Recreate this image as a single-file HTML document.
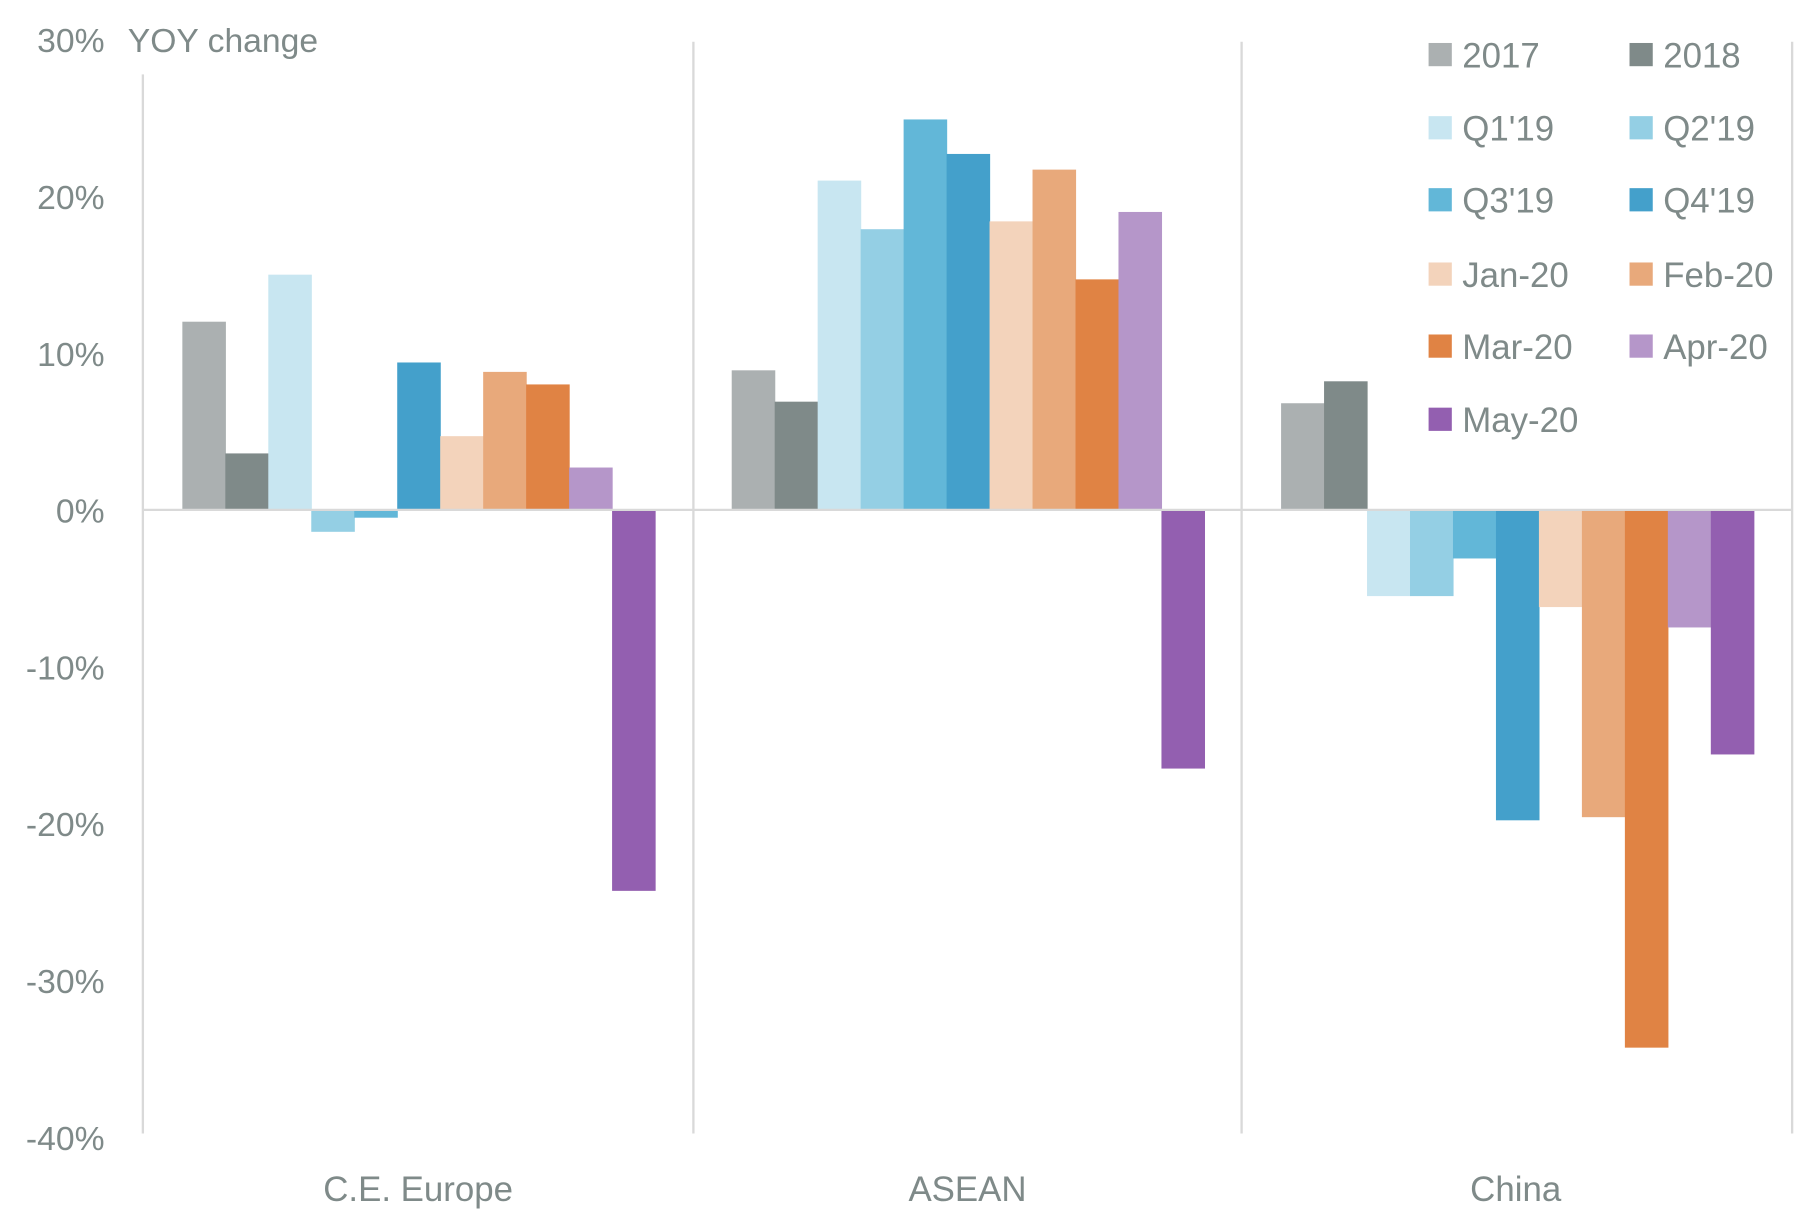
<!DOCTYPE html>
<html><head><style>html,body{margin:0;padding:0;background:#fff}svg{display:block}</style></head><body>
<svg width="1820" height="1216" viewBox="0 0 1567 1047" preserveAspectRatio="none" xmlns="http://www.w3.org/2000/svg" font-family="Liberation Sans, sans-serif" fill="#7f8a89">
<g stroke="#d9d9d9" stroke-width="2">
<line x1="123" y1="64" x2="123" y2="976"/><line x1="597" y1="36" x2="597" y2="976"/><line x1="1069" y1="36" x2="1069" y2="976"/><line x1="1543" y1="36" x2="1543" y2="976"/>
</g>
<g font-size="29" text-anchor="end">
<text x="90" y="45">30%</text><text x="90" y="180">20%</text><text x="90" y="315">10%</text><text x="90" y="450">0%</text>
<text x="90" y="585">-10%</text><text x="90" y="720">-20%</text><text x="90" y="855">-30%</text><text x="90" y="990">-40%</text>
</g>
<text x="110" y="45" font-size="29">YOY change</text>
<g font-size="30" text-anchor="middle"><text x="360" y="1034">C.E. Europe</text><text x="833" y="1034">ASEAN</text><text x="1305" y="1034">China</text></g>
<g>
<rect x="157" y="277" width="37.5" height="162" fill="#abb0b1"/>
<rect x="194" y="390.4" width="37.5" height="48.6" fill="#7f8a89"/>
<rect x="231" y="236.5" width="37.5" height="202.5" fill="#c8e6f1"/>
<rect x="268" y="439" width="37.5" height="18.9" fill="#94cfe4"/>
<rect x="305" y="439" width="37.5" height="6.75" fill="#62b7d8"/>
<rect x="342" y="312.1" width="37.5" height="126.9" fill="#44a0cb"/>
<rect x="379" y="375.55" width="37.5" height="63.45" fill="#f3d3bb"/>
<rect x="416" y="320.2" width="37.5" height="118.8" fill="#e8a97b"/>
<rect x="453" y="331" width="37.5" height="108" fill="#e08344"/>
<rect x="490" y="402.55" width="37.5" height="36.45" fill="#b596c9"/>
<rect x="527" y="439" width="37.5" height="328.05" fill="#935fb0"/>

<rect x="630" y="318.85" width="37.5" height="120.15" fill="#abb0b1"/>
<rect x="667" y="345.85" width="37.5" height="93.15" fill="#7f8a89"/>
<rect x="704" y="155.5" width="37.5" height="283.5" fill="#c8e6f1"/>
<rect x="741" y="197.35" width="37.5" height="241.65" fill="#94cfe4"/>
<rect x="778" y="102.85" width="37.5" height="336.15" fill="#62b7d8"/>
<rect x="815" y="132.55" width="37.5" height="306.45" fill="#44a0cb"/>
<rect x="852" y="190.6" width="37.5" height="248.4" fill="#f3d3bb"/>
<rect x="889" y="146.05" width="37.5" height="292.95" fill="#e8a97b"/>
<rect x="926" y="240.55" width="37.5" height="198.45" fill="#e08344"/>
<rect x="963" y="182.5" width="37.5" height="256.5" fill="#b596c9"/>
<rect x="1000" y="439" width="37.5" height="222.75" fill="#935fb0"/>

<rect x="1103" y="347.2" width="37.5" height="91.8" fill="#abb0b1"/>
<rect x="1140" y="328.3" width="37.5" height="110.7" fill="#7f8a89"/>
<rect x="1177" y="439" width="37.5" height="74.25" fill="#c8e6f1"/>
<rect x="1214" y="439" width="37.5" height="74.25" fill="#94cfe4"/>
<rect x="1251" y="439" width="37.5" height="41.85" fill="#62b7d8"/>
<rect x="1288" y="439" width="37.5" height="267.3" fill="#44a0cb"/>
<rect x="1325" y="439" width="37.5" height="83.7" fill="#f3d3bb"/>
<rect x="1362" y="439" width="37.5" height="264.6" fill="#e8a97b"/>
<rect x="1399" y="439" width="37.5" height="463.05" fill="#e08344"/>
<rect x="1436" y="439" width="37.5" height="101.25" fill="#b596c9"/>
<rect x="1473" y="439" width="37.5" height="210.6" fill="#935fb0"/>
</g>
<line x1="123" y1="439" x2="1543" y2="439" stroke="#d9d9d9" stroke-width="2"/>
<g font-size="30">
<rect x="1230" y="37" width="20" height="20" fill="#abb0b1"/><text x="1259" y="58">2017</text>
<rect x="1403" y="37" width="20" height="20" fill="#7f8a89"/><text x="1432" y="58">2018</text>
<rect x="1230" y="100" width="20" height="20" fill="#c8e6f1"/><text x="1259" y="121">Q1'19</text>
<rect x="1403" y="100" width="20" height="20" fill="#94cfe4"/><text x="1432" y="121">Q2'19</text>
<rect x="1230" y="162" width="20" height="20" fill="#62b7d8"/><text x="1259" y="183">Q3'19</text>
<rect x="1403" y="162" width="20" height="20" fill="#44a0cb"/><text x="1432" y="183">Q4'19</text>
<rect x="1230" y="226" width="20" height="20" fill="#f3d3bb"/><text x="1259" y="247">Jan-20</text>
<rect x="1403" y="226" width="20" height="20" fill="#e8a97b"/><text x="1432" y="247">Feb-20</text>
<rect x="1230" y="288" width="20" height="20" fill="#e08344"/><text x="1259" y="309">Mar-20</text>
<rect x="1403" y="288" width="20" height="20" fill="#b596c9"/><text x="1432" y="309">Apr-20</text>
<rect x="1230" y="351" width="20" height="20" fill="#935fb0"/><text x="1259" y="372">May-20</text>
</g>
</svg>
</body></html>
